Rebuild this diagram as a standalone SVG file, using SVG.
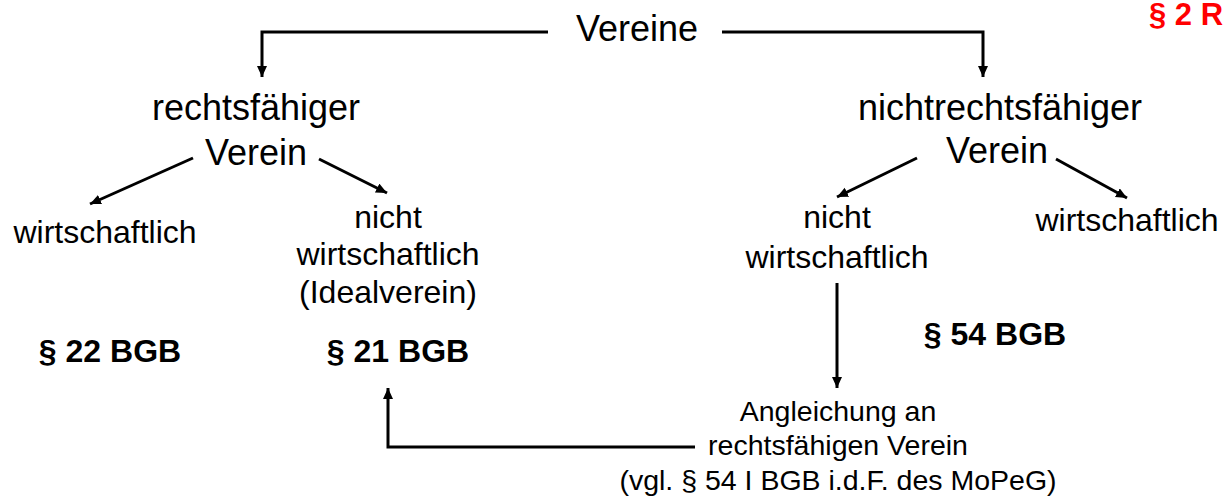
<svg xmlns="http://www.w3.org/2000/svg" width="1228" height="502" viewBox="0 0 1228 502">
<style>
text{font-family:"Liberation Sans",Arial,sans-serif;fill:#000;text-anchor:middle}
.l{font-size:36px}
.m{font-size:32px}
.b{font-size:32px;font-weight:bold}
.s{font-size:28.5px}
.r{font-size:31px;font-weight:bold;fill:#ff0000;text-anchor:start}
.c{fill:none;stroke:#000;stroke-width:3}
</style>
<defs>
<marker id="ah" markerUnits="userSpaceOnUse" markerWidth="12" markerHeight="12" refX="11" refY="5" orient="auto">
<path d="M0,0 L11,5 L0,10 z" fill="#000"/>
</marker>
</defs>
<g id="connectors">
<polyline class="c" points="548,32 262,32 262,77" marker-end="url(#ah)"/>
<polyline class="c" points="722,32 983,32 983,77" marker-end="url(#ah)"/>
<line class="c" x1="193" y1="158" x2="90" y2="204" marker-end="url(#ah)"/>
<line class="c" x1="319" y1="159" x2="387" y2="193" marker-end="url(#ah)"/>
<line class="c" x1="917" y1="158" x2="837" y2="197" marker-end="url(#ah)"/>
<line class="c" x1="1056" y1="159" x2="1127" y2="198" marker-end="url(#ah)"/>
<line class="c" x1="837" y1="283" x2="837" y2="388" marker-end="url(#ah)"/>
<polyline class="c" points="695,447 388,447 388,388" marker-end="url(#ah)"/>
</g>
<g id="label-ref"><text class="r" x="1149" y="25">§ 2 R</text></g>
<g id="vereine"><text class="l" x="637" y="41">Vereine</text></g>
<g id="rechtsfaehig"><text class="l" x="256" y="120">rechtsfähiger</text><text class="l" x="256" y="165">Verein</text></g>
<g id="nichtrechtsfaehig"><text class="l" x="1000" y="120">nichtrechtsfähiger</text><text class="l" x="997" y="163">Verein</text></g>
<g id="wirt-left"><text class="m" x="105" y="243">wirtschaftlich</text></g>
<g id="ideal"><text class="m" x="388" y="228">nicht</text><text class="m" x="388" y="265">wirtschaftlich</text><text class="m" x="388" y="303">(Idealverein)</text></g>
<g id="nicht-wirt-right"><text class="m" x="837" y="228">nicht</text><text class="m" x="837" y="268">wirtschaftlich</text></g>
<g id="wirt-right"><text class="m" x="1127" y="231">wirtschaftlich</text></g>
<g id="p22"><text class="b" x="110" y="362">§ 22 BGB</text></g>
<g id="p21"><text class="b" x="398" y="362">§ 21 BGB</text></g>
<g id="p54"><text class="b" x="995" y="345">§ 54 BGB</text></g>
<g id="angleichung"><text class="s" x="838" y="421">Angleichung an</text><text class="s" x="838" y="455">rechtsfähigen Verein</text><text class="s" x="838" y="490">(vgl. § 54 I BGB i.d.F. des MoPeG)</text></g>
</svg>
